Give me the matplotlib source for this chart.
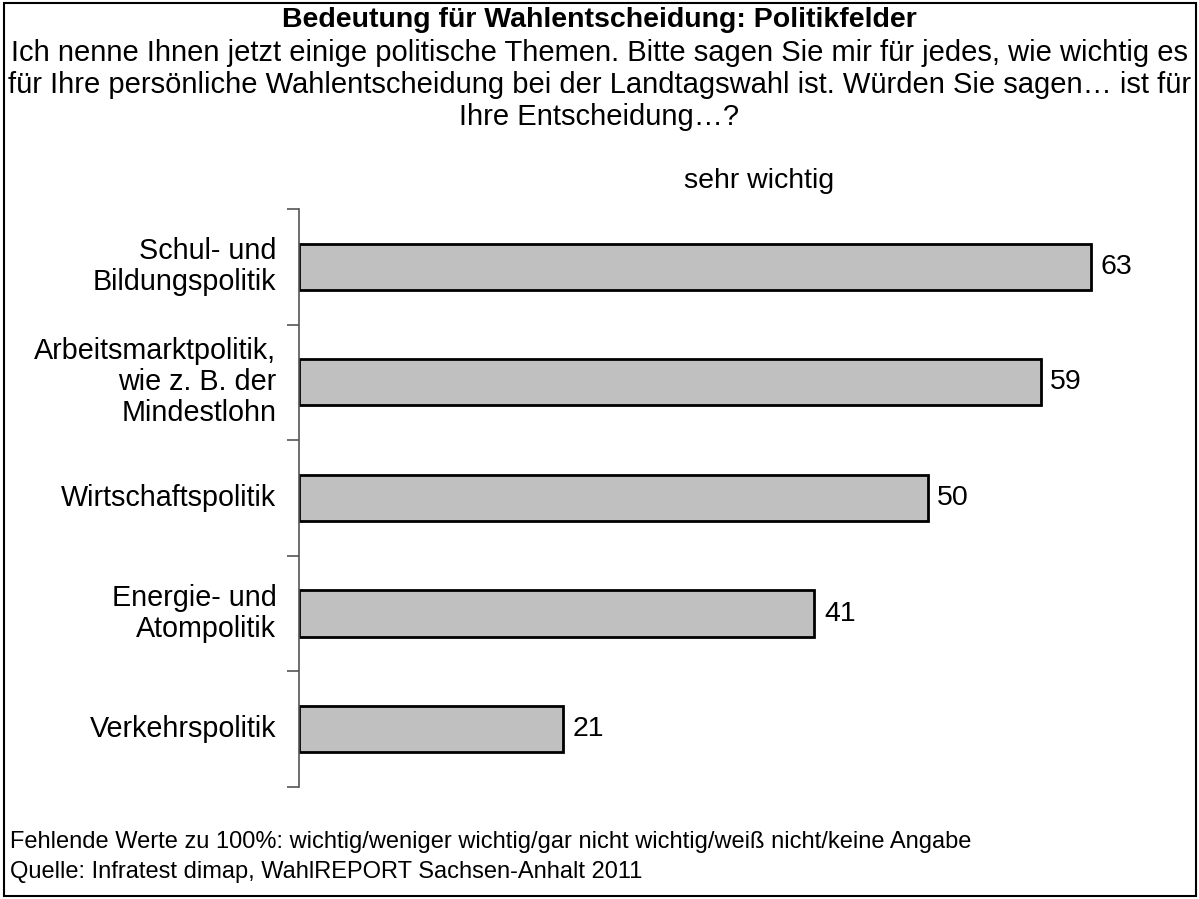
import matplotlib.pyplot as plt
from matplotlib.patches import Rectangle

plt.rcParams['font.family'] = ['Liberation Sans', 'DejaVu Sans']

kategorien = ["Schul- und\nBildungspolitik",
              "Arbeitsmarktpolitik,\nwie z. B. der\nMindestlohn",
              "Wirtschaftspolitik",
              "Energie- und\nAtompolitik",
              "Verkehrspolitik"]
sehr_wichtig = [63, 59, 50, 41, 21]

titel = "Bedeutung für Wahlentscheidung: Politikfelder"
frage = ("Ich nenne Ihnen jetzt einige politische Themen. Bitte sagen Sie mir für jedes, wie wichtig es\n"
         "für Ihre persönliche Wahlentscheidung bei der Landtagswahl ist. Würden Sie sagen… ist für\n"
         "Ihre Entscheidung…?")
fussnote1 = "Fehlende Werte zu 100%: wichtig/weniger wichtig/gar nicht wichtig/weiß nicht/keine Angabe"
fussnote2 = "Quelle: Infratest dimap, WahlREPORT Sachsen-Anhalt 2011"

fig = plt.figure(figsize=(11.99, 8.99), dpi=100)
ax = fig.add_axes([0.2494, 0.1246, 0.734, 0.643])

pos = list(range(len(kategorien)))
ax.barh(pos, sehr_wichtig, height=0.4, color='#c0c0c0', edgecolor='black', linewidth=2)
for p, v in zip(pos, sehr_wichtig):
    ax.text(v + 0.75, p, str(v), va='center', ha='left', fontsize=20.5)

ax.set_xlim(0, 70)
ax.set_ylim(len(kategorien) - 0.5, -0.5)
ax.set_yticks([p - 0.5 for p in pos] + [len(kategorien) - 0.5])
ax.set_yticklabels([])
ax.tick_params(axis='y', length=9, width=1.2, color='#555555')
ax.set_xticks([])
for p, k in zip(pos, kategorien):
    ax.text(-1.8, p, k, ha='right', va='center', fontsize=20.7, linespacing=1.14)
for s in ['top', 'right', 'bottom']:
    ax.spines[s].set_visible(False)
ax.spines['left'].set_color('#555555')
ax.spines['left'].set_linewidth(1.2)

fig.text(0.5, 1 - 20 / 899, titel, ha='center', va='center', fontsize=20.5, fontweight='bold')
fig.text(0.5, 1 - 85 / 899, frage, ha='center', va='center', fontsize=21, linespacing=1.18)
fig.text(759 / 1199, 1 - 181 / 899, "sehr wichtig", ha='center', va='center', fontsize=20.5)
fig.text(10 / 1199, 1 - 842 / 899, fussnote1, ha='left', va='center', fontsize=17)
fig.text(10 / 1199, 1 - 872 / 899, fussnote2, ha='left', va='center', fontsize=17)

fig.patches.append(Rectangle((4 / 1199, 3 / 899), 1192 / 1199, 893 / 899,
                             transform=fig.transFigure, fill=False,
                             edgecolor='black', linewidth=1.5))

fig.savefig('out.png', dpi=100)
